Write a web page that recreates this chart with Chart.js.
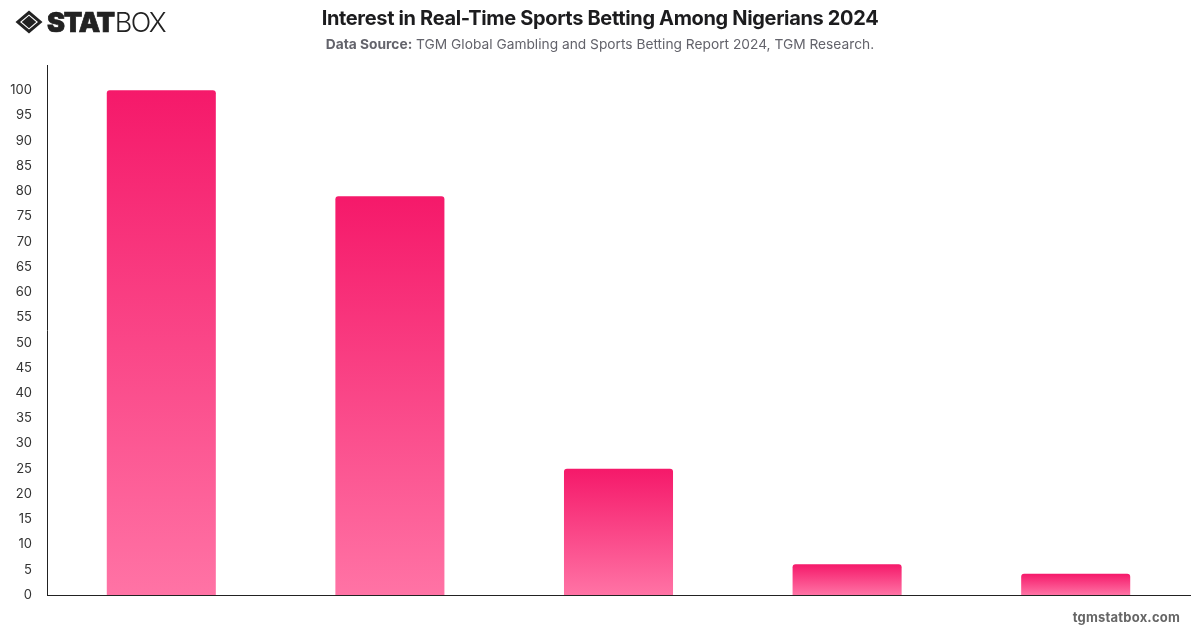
<!DOCTYPE html>
<html>
<head>
<meta charset="utf-8">
<title>Interest in Real-Time Sports Betting Among Nigerians 2024</title>
<script src="https://cdn.jsdelivr.net/npm/chart.js@4"></script>
<style>
    html, body { margin: 0; padding: 0; background: #fff; }
    body { width: 1200px; height: 628px; position: relative; overflow: hidden; font-family: Inter, sans-serif; }
    #chart-box { position: absolute; left: 0; top: 0; width: 1200px; height: 628px; }
    #title { position: absolute; top: 5px; left: 0; width: 1200px; text-align: center; font-size: 20px; line-height: 26px; font-weight: 700; color: #1c1c1e; letter-spacing: -0.34px; }
    #source { position: absolute; top: 35px; left: 0; width: 1200px; text-align: center; font-size: 13.75px; line-height: 18px; color: #63636b; }
    #source b { font-weight: 700; }
    #site { position: absolute; top: 608px; right: 20px; font-size: 13px; line-height: 18px; font-weight: 700; color: #666; letter-spacing: 0.2px; }
    #logo { position: absolute; left: 15px; top: 9px; height: 26px; display: flex; align-items: center; color: #222; }
    #logo svg { margin-right: 4px; }
    #logo .heavy { font-size: 27px; font-weight: 900; letter-spacing: -1.2px; -webkit-text-stroke: 0.7px #222; }
    #logo .light { font-size: 27px; font-weight: 300; letter-spacing: -1.6px; margin-left: 1px; }
</style>
</head>
<body>
<div id="chart-box"><canvas id="betting-chart"></canvas></div>
<div id="logo">
    <svg width="28" height="26" viewBox="0 0 28 26">
        <path d="M14 1.5 L27.5 13 L14 24.5 L0.5 13 Z M14 5.5 L5 13 L14 20.5 L23 13 Z" fill="#222" fill-rule="evenodd"/>
        <path d="M14 6.8 L21.2 13 L14 19.2 L6.8 13 Z" fill="#222"/>
    </svg>
    <span class="heavy">STAT</span><span class="light">BOX</span>
</div>
<div id="title">Interest in Real-Time Sports Betting Among Nigerians 2024</div>
<div id="source"><b>Data Source:</b> TGM Global Gambling and Sports Betting Report 2024, TGM Research.</div>
<div id="site">tgmstatbox.com</div>

<script>
// setup
const categories = ['Group 1', 'Group 2', 'Group 3', 'Group 4', 'Group 5'];
const interestValues = [100, 79, 25, 6.1, 4.2];
const barTopColor = '#f5196a';
const barBottomColor = '#ff73a5';

// each bar fades from its own top down to the baseline
function barGradient(context) {
    const chart = context.chart;
    const yScale = chart.scales.y;
    if (!yScale || context.dataIndex === undefined) return barTopColor;
    const top = yScale.getPixelForValue(interestValues[context.dataIndex]);
    const bottom = yScale.getPixelForValue(0);
    // scales have no pixels yet on the first options pass
    if (!Number.isFinite(top) || !Number.isFinite(bottom)) return barTopColor;
    const gradient = chart.ctx.createLinearGradient(0, top, 0, bottom);
    gradient.addColorStop(0, barTopColor);
    gradient.addColorStop(1, barBottomColor);
    return gradient;
}

const bettingData = {
    labels: categories,
    datasets: [{
        data: interestValues,
        backgroundColor: barGradient,
        borderRadius: { topLeft: 3, topRight: 3 },
        borderSkipped: 'bottom',
        categoryPercentage: 1,
        barPercentage: 0.477
    }]
};

const bettingConfig = {
    type: 'bar',
    data: bettingData,
    options: {
        responsive: true,
        maintainAspectRatio: false,
        animation: false,
        layout: {
            padding: { top: 65, right: 10, bottom: 25, left: 0 }
        },
        plugins: {
            legend: { display: false },
            tooltip: { enabled: false }
        },
        scales: {
            x: {
                grid: { display: false },
                border: { color: '#222', width: 1 },
                ticks: { display: false }
            },
            y: {
                min: 0,
                max: 105,
                afterFit: (scale) => { scale.width = 47; },
                grid: { display: false, drawTicks: false },
                border: { color: '#222', width: 1 },
                ticks: {
                    stepSize: 5,
                    padding: 15,
                    color: '#333',
                    font: { family: 'Inter', size: 13 },
                    callback: (value) => (value > 100 ? '' : value)
                }
            }
        }
    }
};

// render chart
const bettingChart = new Chart(
    document.getElementById('betting-chart'),
    bettingConfig
);
</script>
</body>
</html>
